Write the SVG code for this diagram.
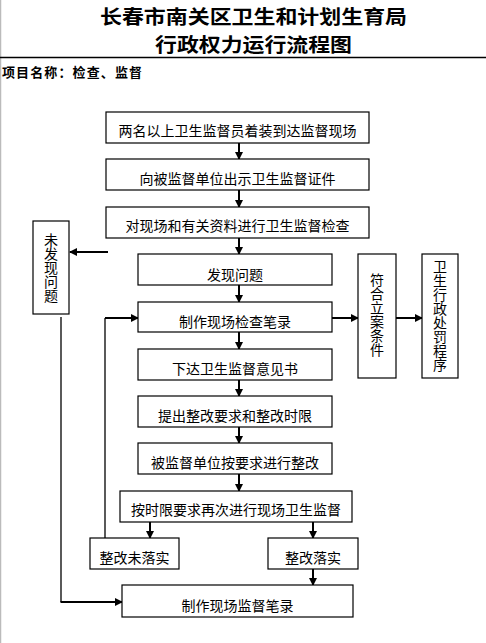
<svg xmlns="http://www.w3.org/2000/svg" width="486" height="643" viewBox="0 0 486 643">
<defs>
<marker id="ah" markerWidth="8" markerHeight="8" refX="7" refY="4" orient="auto" markerUnits="userSpaceOnUse">
<path d="M0,0 L8,4 L0,8 z" fill="#000"/>
</marker>
<style>
.box{fill:#fff;stroke:#000;stroke-width:1.2}
.t{font-family:"Noto Sans CJK SC","Noto Sans CJK JP",sans-serif;font-size:14px;fill:#000;text-anchor:middle}
.v{font-family:"Noto Sans CJK SC","Noto Sans CJK JP",sans-serif;font-size:14px;fill:#000;writing-mode:vertical-rl;text-orientation:upright}
.ttl{font-family:"Noto Sans CJK SC","Noto Sans CJK JP",sans-serif;font-size:19px;font-weight:bold;fill:#000}
.sub{font-family:"Noto Sans CJK SC","Noto Sans CJK JP",sans-serif;font-size:13px;font-weight:bold;fill:#000}
.a{stroke:#000;stroke-width:2;fill:none;marker-end:url(#ah)}
.l{stroke:#000;stroke-width:1.3;fill:none}
</style>
</defs>
<rect width="486" height="643" fill="#fff"/>
<line x1="0.5" y1="0" x2="0.5" y2="643" stroke="#bbb" stroke-width="1.5"/>
<g id="title">
<text class="ttl" x="100" y="24" textLength="307" lengthAdjust="spacingAndGlyphs">长春市南关区卫生和计划生育局</text>
<text class="ttl" x="155" y="52" textLength="197" lengthAdjust="spacingAndGlyphs">行政权力运行流程图</text>
<line x1="0" y1="57.5" x2="486" y2="57.5" stroke="#000" stroke-width="1.5"/>
<text class="sub" x="2" y="77" textLength="140" lengthAdjust="spacing">项目名称：检查、监督</text>
</g>
<g id="connectors">
<line class="a" x1="239" y1="143" x2="239" y2="159"/>
<line class="a" x1="239" y1="190" x2="239" y2="207"/>
<line class="a" x1="239" y1="238" x2="239" y2="254"/>
<line class="a" x1="108" y1="252" x2="70" y2="252"/>
<line class="a" x1="239" y1="285" x2="239" y2="302"/>
<line class="a" x1="239" y1="332" x2="239" y2="349"/>
<line class="a" x1="239" y1="380" x2="239" y2="396"/>
<line class="a" x1="239" y1="427" x2="239" y2="443"/>
<line class="a" x1="239" y1="474" x2="239" y2="491"/>
<line class="a" x1="332" y1="318" x2="358" y2="318"/>
<line class="a" x1="396" y1="318" x2="422" y2="318"/>
<line class="a" x1="150" y1="522" x2="150" y2="538"/>
<line class="a" x1="313" y1="522" x2="313" y2="538"/>
<line class="a" x1="313" y1="569" x2="313" y2="585"/>
<polyline class="l" points="105,538 105,318"/>
<line class="a" x1="105" y1="318" x2="138" y2="318"/>
<polyline class="l" points="61,317 61,602"/>
<line class="a" x1="60.5" y1="602" x2="122" y2="602"/>
</g>
<g id="n1"><rect class="box" x="106" y="112" width="263" height="31"/><text class="t" x="237.5" y="136">两名以上卫生监督员着装到达监督现场</text></g>
<g id="n2"><rect class="box" x="106" y="159" width="263" height="31"/><text class="t" x="237.5" y="184">向被监督单位出示卫生监督证件</text></g>
<g id="n3"><rect class="box" x="106" y="207" width="263" height="31"/><text class="t" x="237.5" y="231">对现场和有关资料进行卫生监督检查</text></g>
<g id="n4"><rect class="box" x="33" y="221" width="36" height="93"/><text class="v" x="51" y="233">未发现问题</text></g>
<g id="n5"><rect class="box" x="138" y="254" width="194" height="31"/><text class="t" x="235" y="280">发现问题</text></g>
<g id="n6"><rect class="box" x="138" y="302" width="194" height="30"/><text class="t" x="235" y="327">制作现场检查笔录</text></g>
<g id="n7"><rect class="box" x="138" y="349" width="194" height="31"/><text class="t" x="235" y="374">下达卫生监督意见书</text></g>
<g id="n8"><rect class="box" x="358" y="254" width="38" height="124"/><text class="v" x="377" y="273">符合立案条件</text></g>
<g id="n9"><rect class="box" x="422" y="254" width="36" height="124"/><text class="v" x="440" y="260">卫生行政处罚程序</text></g>
<g id="n10"><rect class="box" x="138" y="396" width="194" height="31"/><text class="t" x="235" y="421">提出整改要求和整改时限</text></g>
<g id="n11"><rect class="box" x="138" y="443" width="194" height="31"/><text class="t" x="235" y="468">被监督单位按要求进行整改</text></g>
<g id="n12"><rect class="box" x="120" y="491" width="232" height="31"/><text class="t" x="236" y="515">按时限要求再次进行现场卫生监督</text></g>
<g id="n13"><rect class="box" x="90" y="538" width="89" height="31"/><text class="t" x="134.5" y="563">整改未落实</text></g>
<g id="n14"><rect class="box" x="268" y="538" width="90" height="31"/><text class="t" x="313" y="563">整改落实</text></g>
<g id="n15"><rect class="box" x="122" y="585" width="231" height="32"/><text class="t" x="237.5" y="611">制作现场监督笔录</text></g>
</svg>
